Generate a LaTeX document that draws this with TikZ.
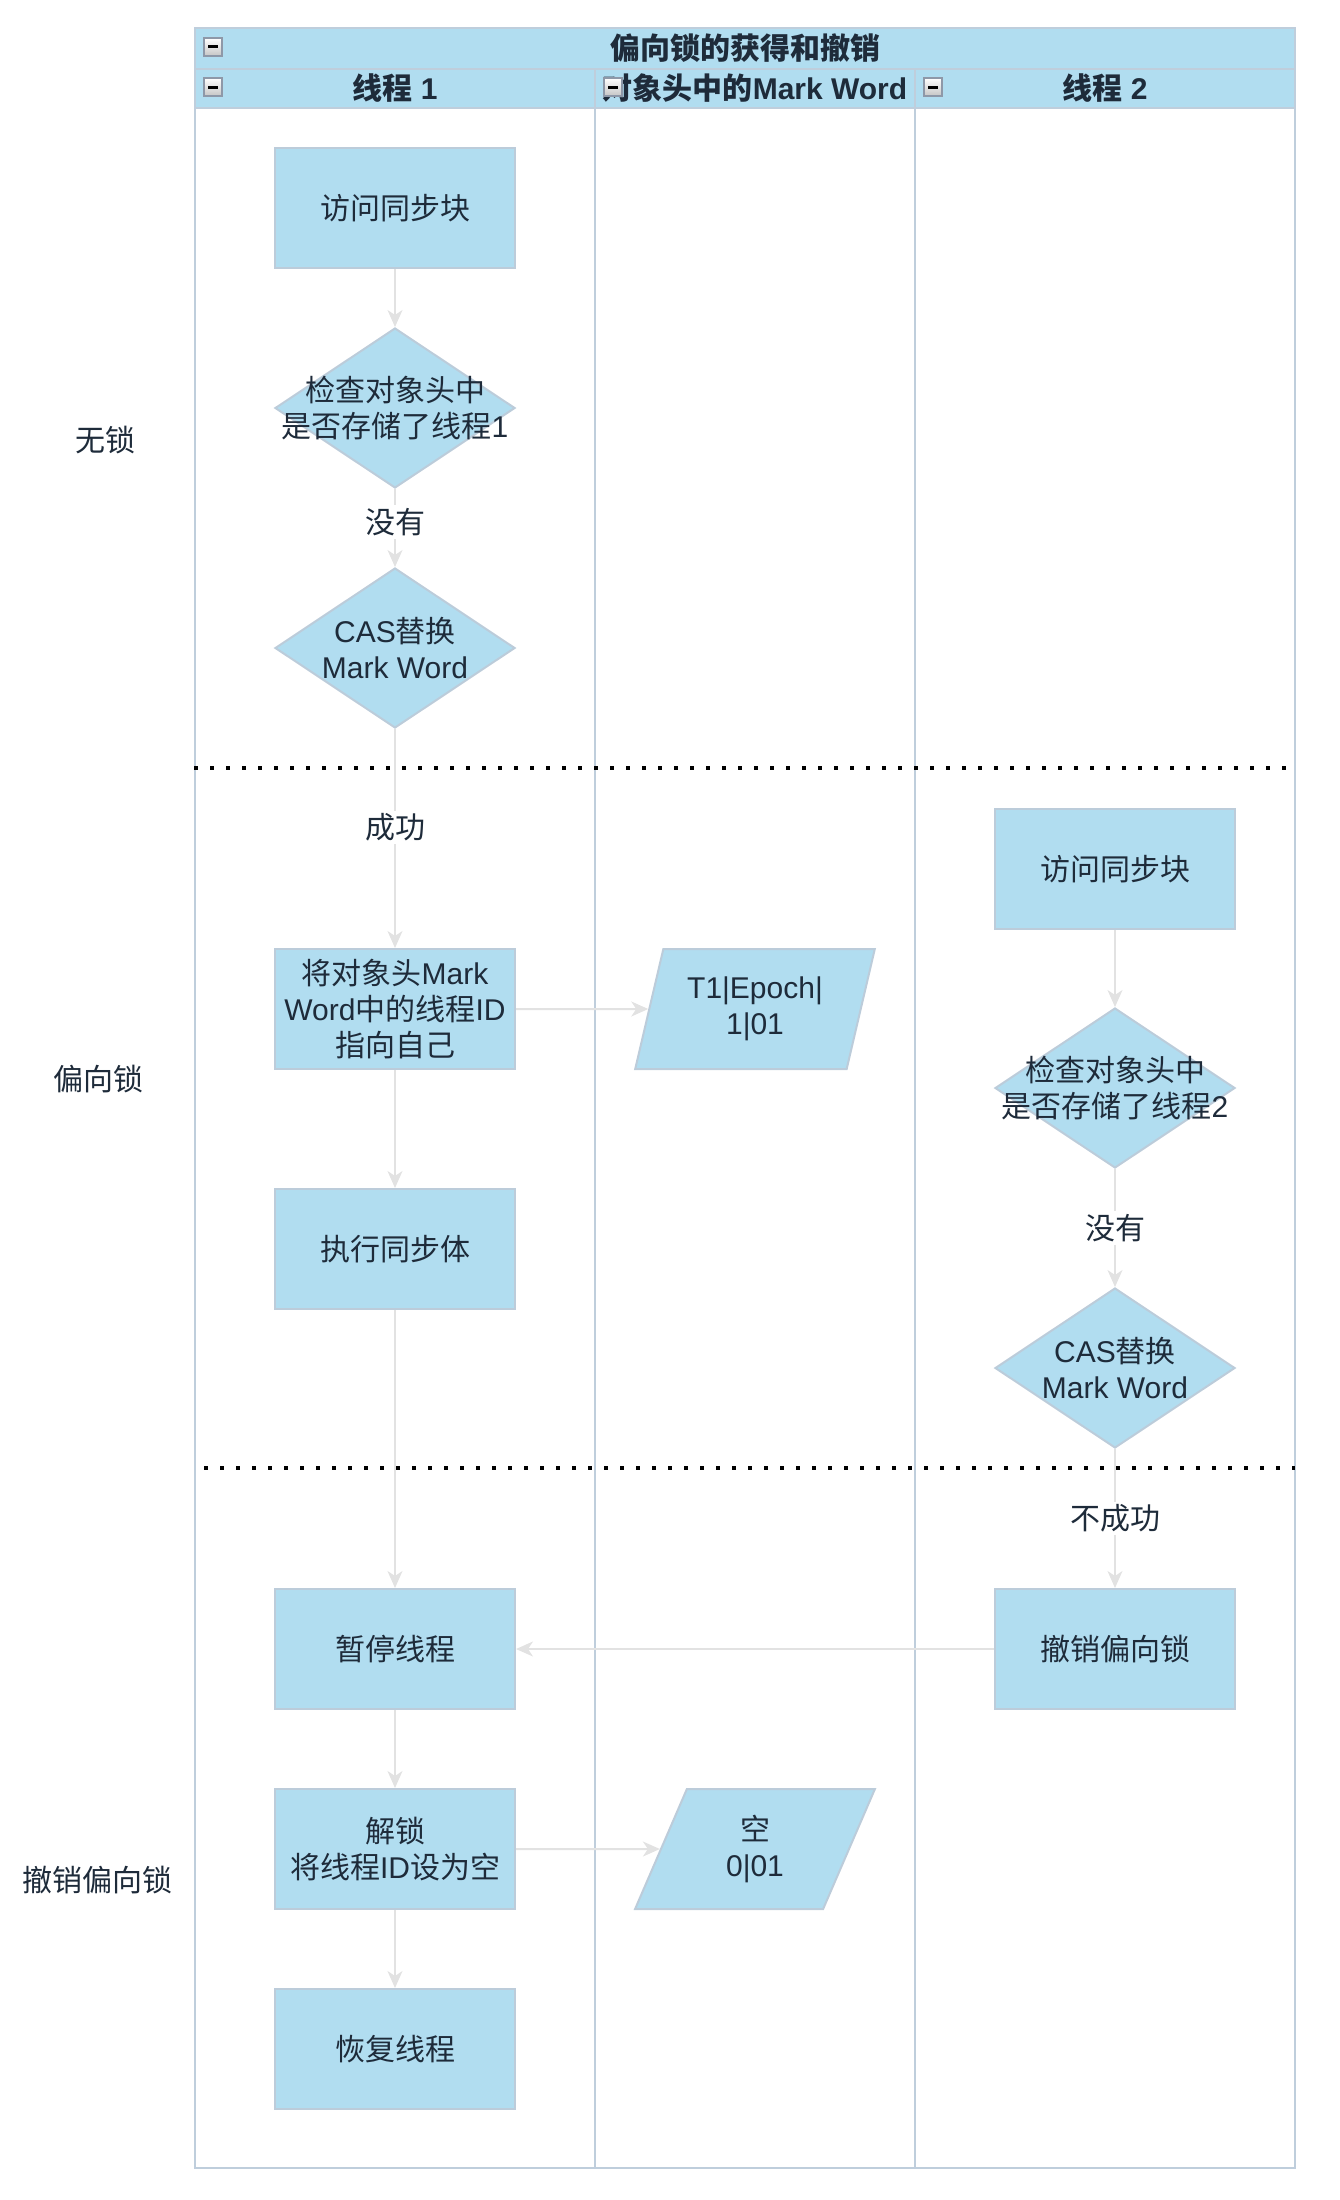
\documentclass[tikz,border=0pt]{standalone}
\usepackage{fontspec}
\setmainfont{Noto Sans CJK SC}
\newfontfamily\lat{Liberation Sans}
\usetikzlibrary{shapes.geometric,arrows.meta}
\definecolor{nodefill}{HTML}{B1DDF0}
\definecolor{nodeline}{HTML}{BCCCDA}
\definecolor{laneline}{HTML}{BFCEDC}
\definecolor{txt}{HTML}{1E2B3A}
\definecolor{arrowc}{HTML}{E2E2E2}
\definecolor{iconline}{HTML}{8E98A8}
\newcommand{\lt}[1]{{\lat #1}}
\tikzset{
  base/.style={font=\fontsize{30}{36}\selectfont, text=txt, align=center},
  procbox/.style={base, rectangle, fill=nodefill, draw=nodeline, line width=2pt,
    minimum width=240pt, minimum height=120pt, inner sep=0pt},
  decbox/.style={diamond, fill=nodefill, draw=nodeline, line width=2pt,
    minimum width=240pt, minimum height=160pt, inner sep=0pt},
  dectext/.style={base, inner sep=0pt},
  databox/.style={base, trapezium, trapezium left angle=72, trapezium right angle=108,
    trapezium stretches=true, fill=nodefill, draw=nodeline, line width=2pt,
    minimum width=240pt, minimum height=120pt, inner sep=0pt},
  flow/.style={draw=arrowc, line width=2pt, -{Stealth[length=17pt,width=15pt,inset=5pt]}},
  edgelabel/.style={base, fill=white, inner sep=3pt},
  rowlabel/.style={base},
  headtext/.style={font=\fontsize{30}{34}\selectfont\bfseries, text=txt},
  sepline/.style={line width=4pt, dash pattern=on 4pt off 12pt, black},
  laneborder/.style={draw=laneline, line width=2pt},
  iconbox/.style={rectangle, minimum width=18pt, minimum height=18pt, inner sep=0pt,
    draw=iconline, line width=2.5pt, top color=white, bottom color=gray!45,
    path picture={\draw[black, line width=3pt]
      ([xshift=-5pt]path picture bounding box.center) -- ([xshift=5pt]path picture bounding box.center);}}
}
\begin{document}
\begin{tikzpicture}[x=1pt,y=-1pt]
\useasboundingbox (0,0) rectangle (1340,2200);
% pool header fills
\fill[nodefill] (195,28) rectangle (1295,108);
% lanes
\draw[laneborder] (195,28) rectangle (1295,2168);
\draw[laneborder] (195,69) -- (1295,69);
\draw[laneborder] (195,108) -- (1295,108);
\draw[laneborder] (595,69) -- (595,2168);
\draw[laneborder] (915,69) -- (915,2168);
% header texts
\node[headtext] (title) at (745,48) {偏向锁的获得和撤销};
\node[headtext] (h1) at (395,88) {线程\lt{ 1}};
\node[headtext] (h2) at (755,88) {对象头中的\lt{Mark Word}};
\node[headtext] (h3) at (1105,88) {线程\lt{ 2}};
\node[iconbox] (i0) at (213,47) {};
\node[iconbox] (i1) at (213,87) {};
\node[iconbox] (i2) at (613,87) {};
\node[iconbox] (i3) at (933,87) {};
% separators
\draw[sepline] (194,768) -- (1290,768);
\draw[sepline] (204,1468) -- (1295,1468);
% row labels
\node[rowlabel] (r0) at (105,440) {无锁};
\node[rowlabel] (r1) at (98,1079) {偏向锁};
\node[rowlabel] (r2) at (98,1880) {撤销偏向锁};
% lane 1
\node[procbox] (a1) at (395,208) {访问同步块};
\node[decbox] (d1) at (395,408) {};
\node[dectext] (d1t) at (395,408) {检查对象头中\\是否存储了线程\lt{1}};
\node[decbox] (c1) at (395,648) {};
\node[dectext] (c1t) at (395,648) {\lt{CAS}替换\\\lt{Mark Word}};
\node[procbox] (b1) at (395,1009) {将对象头\lt{Mark}\\\lt{Word}中的线程\lt{ID}\\指向自己};
\node[procbox] (e1) at (395,1249) {执行同步体};
\node[procbox] (s1) at (395,1649) {暂停线程};
\node[procbox] (u1) at (395,1849) {解锁\\将线程\lt{ID}设为空};
\node[procbox] (f1) at (395,2049) {恢复线程};
% mark word lane
\node[databox] (p1) at (755,1009) {\lt{T1|Epoch|}\\\lt{1|01}};
\node[databox] (p2) at (755,1849) {空\\\lt{0|01}};
% lane 2
\node[procbox] (a2) at (1115,869) {访问同步块};
\node[decbox] (d2) at (1115,1088) {};
\node[dectext] (d2t) at (1115,1088) {检查对象头中\\是否存储了线程\lt{2}};
\node[decbox] (c2) at (1115,1368) {};
\node[dectext] (c2t) at (1115,1368) {\lt{CAS}替换\\\lt{Mark Word}};
\node[procbox] (v2) at (1115,1649) {撤销偏向锁};
% connectors
\draw[flow] (a1) -- (d1);
\draw[flow] (d1) -- node[edgelabel, pos=0.42] (l1) {没有} (c1);
\draw[flow] (c1) -- node[edgelabel, pos=0.45] (l2) {成功} (b1);
\draw[flow] (b1) -- (p1);
\draw[flow] (b1) -- (e1);
\draw[flow] (e1) -- (s1);
\draw[flow] (a2) -- (d2);
\draw[flow] (d2) -- node[edgelabel] (l3) {没有} (c2);
\draw[flow] (c2) -- node[edgelabel] (l4) {不成功} (v2);
\draw[flow] (v2) -- (s1);
\draw[flow] (s1) -- (u1);
\draw[flow] (u1) -- (p2);
\draw[flow] (u1) -- (f1);
\end{tikzpicture}
\end{document}
